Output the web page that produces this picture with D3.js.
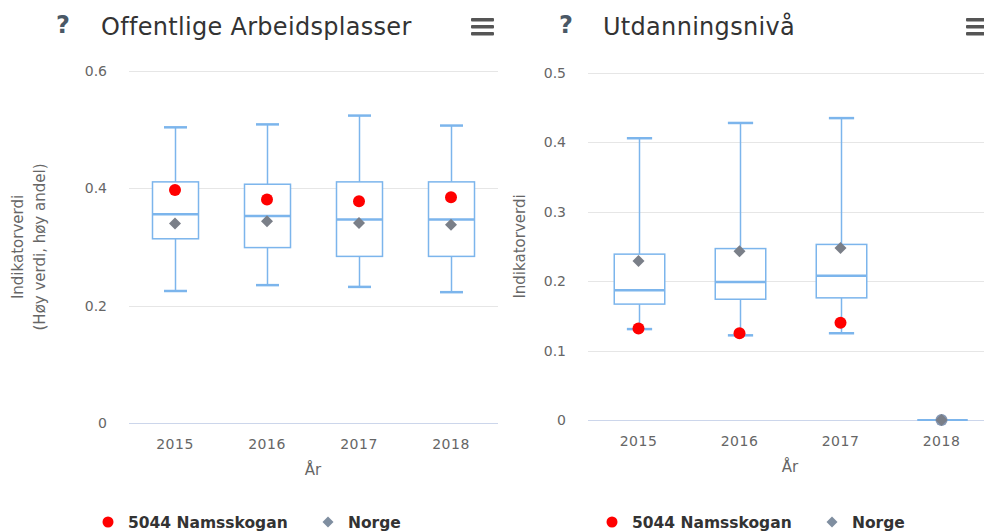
<!DOCTYPE html>
<html>
<head>
<meta charset="utf-8">
<script src="https://cdn.jsdelivr.net/npm/d3@7/dist/d3.min.js"></script>
<style>
  body { margin: 0; background: #fff; overflow: hidden; }
  text { font-family: "DejaVu Sans", Verdana, sans-serif; }
</style>
</head>
<body>
<div id="viz"></div>
<script>
var years = ["2015", "2016", "2017", "2018"];

// Offentlige Arbeidsplasser
var arbLow    = [0.225, 0.235, 0.232, 0.223];
var arbQ1     = [0.314, 0.299, 0.284, 0.284];
var arbMedian = [0.356, 0.353, 0.347, 0.347];
var arbQ3     = [0.411, 0.407, 0.411, 0.411];
var arbHigh   = [0.504, 0.509, 0.524, 0.507];
var arbKommune = [0.397, 0.381, 0.378, 0.385];
var arbNorge   = [0.340, 0.344, 0.341, 0.338];
var arbTicks = [0, 0.2, 0.4, 0.6];

// Utdanningsnivå
var utdLow    = [0.131, 0.122, 0.125, 0];
var utdQ1     = [0.167, 0.174, 0.176, 0];
var utdMedian = [0.187, 0.199, 0.208, 0];
var utdQ3     = [0.239, 0.247, 0.253, 0];
var utdHigh   = [0.406, 0.428, 0.435, 0];
var utdKommune = [0.132, 0.125, 0.140, 0];
var utdNorge   = [0.229, 0.243, 0.248, 0];
var utdTicks = [0, 0.1, 0.2, 0.3, 0.4, 0.5];

var W = 984, H = 531;
var boxColor = "#7cb5ec";

var svg = d3.select("#viz").append("svg")
    .attr("width", W)
    .attr("height", H);

svg.append("rect").attr("width", W).attr("height", H).attr("fill", "#fff");

function diamond(g, cx, cy, r, colour) {
  g.append("path")
    .attr("d", "M" + cx + "," + (cy - r) + "L" + (cx + r) + "," + cy + "L" + cx + "," + (cy + r) + "L" + (cx - r) + "," + cy + "Z")
    .attr("fill", colour);
}

function drawPanel(o) {
  var g = svg.append("g").attr("transform", "translate(" + o.ox + ",0)");

  var x = d3.scaleBand().domain(years).range([o.left, o.right]);
  var y = d3.scaleLinear().domain([0, o.max]).range([o.bottom, o.top]);

  // header
  g.append("text").attr("x", o.qx).attr("y", 33)
    .attr("font-size", 24).attr("font-weight", "bold").attr("fill", "#4a5866")
    .text("?");
  g.append("text").attr("x", o.tx).attr("y", 35)
    .attr("font-size", o.tsize).attr("fill", "#333").attr("letter-spacing", 0.3)
    .text(o.title);
  [20, 27, 34].forEach(function(yy) {
    g.append("rect").attr("x", o.mx).attr("y", yy - 2).attr("width", 23).attr("height", 3.5)
      .attr("rx", 1).attr("fill", "#555");
  });

  // grid
  g.selectAll("line.grid").data(o.ticks.slice(1)).enter().append("line")
    .attr("x1", o.left).attr("x2", o.right + o.gx)
    .attr("y1", function(d) { return Math.round(y(d)) + 0.5; })
    .attr("y2", function(d) { return Math.round(y(d)) + 0.5; })
    .attr("stroke", "#e6e6e6");
  g.append("line")
    .attr("x1", o.left).attr("x2", o.right + o.gx)
    .attr("y1", Math.round(y(0)) + 0.5).attr("y2", Math.round(y(0)) + 0.5)
    .attr("stroke", "#ccd6eb");

  // y ticks
  g.selectAll("text.yt").data(o.ticks).enter().append("text")
    .attr("x", o.left - 22).attr("y", function(d) { return y(d) + 5; })
    .attr("text-anchor", "end").attr("font-size", 14).attr("fill", "#666")
    .text(function(d) { return d === 0 ? "0" : d3.format(".1f")(d); });

  // x ticks
  g.selectAll("text.xt").data(years).enter().append("text")
    .attr("x", function(d) { return x(d) + x.bandwidth() / 2; })
    .attr("y", o.bottom + 26).attr("text-anchor", "middle")
    .attr("font-size", 14).attr("fill", "#666").attr("letter-spacing", 0.5)
    .text(function(d) { return d; });

  g.append("text").attr("x", (o.left + o.right) / 2).attr("y", o.bottom + 52)
    .attr("text-anchor", "middle").attr("font-size", 15).attr("fill", "#666")
    .text("År");

  // y title
  var cy = (o.top + o.bottom) / 2;
  o.ytitle.forEach(function(t, i) {
    g.append("text")
      .attr("transform", "translate(" + (o.ytx + i * 22) + "," + cy + ") rotate(-90)")
      .attr("text-anchor", "middle").attr("font-size", 15).attr("fill", "#666")
      .text(t);
  });

  // boxes
  var bw = x.bandwidth() / 2;
  years.forEach(function(yr, i) {
    var cx = Math.round(x(yr) + x.bandwidth() / 2) + 0.5;
    var b = g.append("g");
    if (o.high[i] === 0) {
      b.append("line").attr("x1", cx - bw / 2).attr("x2", cx + bw / 2)
        .attr("y1", y(0)).attr("y2", y(0))
        .attr("stroke", boxColor).attr("stroke-width", 2);
      return;
    }
    b.append("line").attr("x1", cx).attr("x2", cx)
      .attr("y1", y(o.high[i])).attr("y2", y(o.q3[i]))
      .attr("stroke", boxColor).attr("stroke-width", 1.5);
    b.append("line").attr("x1", cx).attr("x2", cx)
      .attr("y1", y(o.q1[i])).attr("y2", y(o.low[i]))
      .attr("stroke", boxColor).attr("stroke-width", 1.5);
    [o.high[i], o.low[i]].forEach(function(v) {
      b.append("line").attr("x1", cx - bw / 4).attr("x2", cx + bw / 4)
        .attr("y1", y(v)).attr("y2", y(v))
        .attr("stroke", boxColor).attr("stroke-width", 2.5);
    });
    b.append("rect").attr("x", cx - bw / 2).attr("y", y(o.q3[i]))
      .attr("width", bw).attr("height", y(o.q1[i]) - y(o.q3[i]))
      .attr("fill", "#fff").attr("stroke", boxColor).attr("stroke-width", 1.5);
    b.append("line").attr("x1", cx - bw / 2).attr("x2", cx + bw / 2)
      .attr("y1", y(o.median[i])).attr("y2", y(o.median[i]))
      .attr("stroke", boxColor).attr("stroke-width", 2.5);
  });

  // points
  years.forEach(function(yr, i) {
    var cx = x(yr) + x.bandwidth() / 2;
    g.append("circle").attr("cx", cx).attr("cy", y(o.kommune[i])).attr("r", 6)
      .attr("fill", o.high[i] === 0 ? "#8597b2" : "red");
    diamond(g, cx, y(o.norge[i]), 6, "#7a7f88");
  });

  // legend
  g.append("circle").attr("cx", o.lx).attr("cy", 522).attr("r", 5.5).attr("fill", "red");
  g.append("text").attr("x", o.lx + 20).attr("y", 528)
    .attr("font-size", 15.5).attr("font-weight", "bold").attr("fill", "#333")
    .text("5044 Namsskogan");
  diamond(g, o.lx + 220, 522, 5.5, "#7f8ea0");
  g.append("text").attr("x", o.lx + 240).attr("y", 528)
    .attr("font-size", 15.5).attr("font-weight", "bold").attr("fill", "#333")
    .text("Norge");
}

drawPanel({
  ox: 0, left: 129, right: 497, top: 71, bottom: 423, max: 0.6, gx: 1,
  ticks: arbTicks, title: "Offentlige Arbeidsplasser", tsize: 24,
  qx: 56, tx: 101, mx: 471, lx: 108, ytx: 23,
  ytitle: ["Indikatorverdi", "(Høy verdi, høy andel)"],
  low: arbLow, q1: arbQ1, median: arbMedian, q3: arbQ3, high: arbHigh,
  kommune: arbKommune, norge: arbNorge
});

drawPanel({
  ox: 500, left: 88, right: 492, top: 73, bottom: 420, max: 0.5, gx: 20,
  ticks: utdTicks, title: "Utdanningsnivå", tsize: 24,
  qx: 59, tx: 103, mx: 466, lx: 112, ytx: 25,
  ytitle: ["Indikatorverdi"],
  low: utdLow, q1: utdQ1, median: utdMedian, q3: utdQ3, high: utdHigh,
  kommune: utdKommune, norge: utdNorge
});
</script>
</body>
</html>
